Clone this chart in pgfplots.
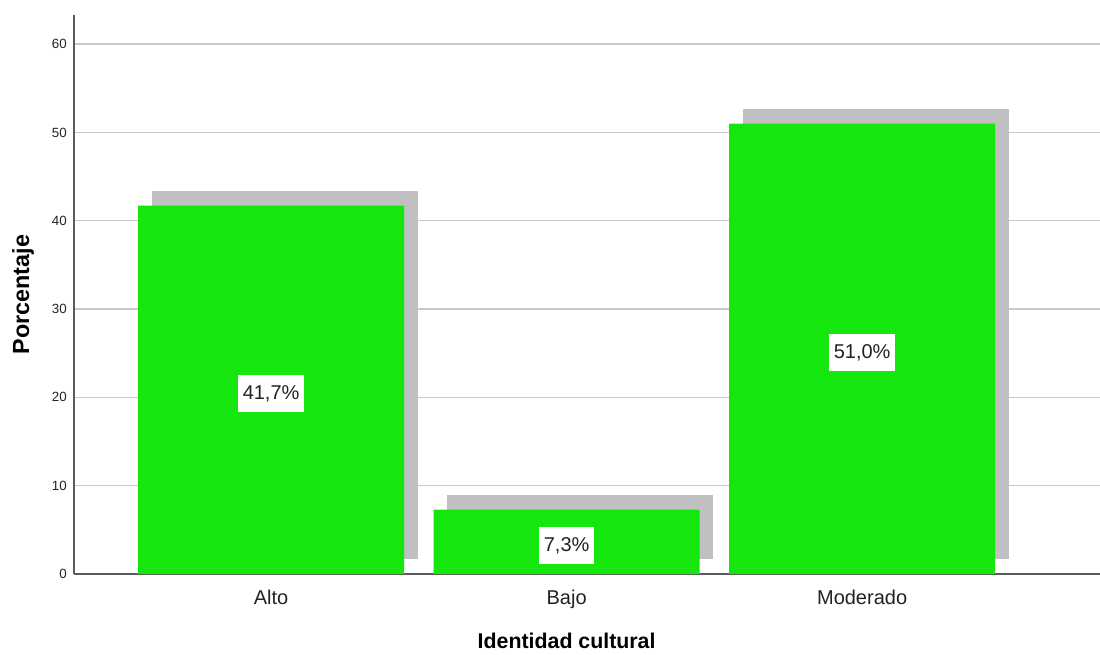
\documentclass[border=0pt]{standalone}
\usepackage{fontspec}
\setmainfont{Liberation Sans}
\usepackage{pgfplots}
\pgfplotsset{compat=1.18}
\definecolor{barg}{RGB}{20,230,14}
\definecolor{shad}{RGB}{192,191,194}
\definecolor{gridc}{RGB}{200,200,200}
\definecolor{axc}{RGB}{90,90,90}
\definecolor{txt}{RGB}{34,34,34}
\begin{document}
\begin{tikzpicture}
\useasboundingbox (-55.5pt,-60pt) rectangle (769.5pt,430.5pt);
\begin{axis}[
  scale only axis,
  width=769.5pt, height=419.25pt,
  xmin=-0.667, xmax=2.805,
  ymin=0, ymax=63.3,
  axis x line*=bottom, axis y line*=left,
  axis line style={draw=axc, line width=1pt, -},
  ytick={0,10,20,30,40,50,60},
  xtick={0,1,2},
  xticklabels={Alto,Bajo,Moderado},
  major tick length=0pt,
  ymajorgrids,
  grid style={draw=gridc, line width=1.1pt},
  /pgf/number format/assume math mode=true,
  yticklabel style={font=\fontsize{10}{12}\selectfont, text=txt, anchor=east, inner xsep=0pt, xshift=-5.25pt},
  xticklabel style={font=\fontsize{15}{18}\selectfont, text=txt, anchor=north, inner ysep=0pt, yshift=-12pt},
  xlabel={\textbf{Identidad cultural}},
  ylabel={\textbf{Porcentaje}},
  xlabel style={font=\fontsize{16}{19}\selectfont, at={(axis cs:1,0)}, anchor=base, inner sep=0pt, yshift=-56pt},
  ylabel style={font=\fontsize{17.5}{20}\selectfont, at={(axis description cs:0,0.5)}, anchor=center, yshift=38.25pt},
  clip=false,
]
% shadows
\addplot[fill=shad, draw=none] coordinates {(-0.404,1.7) (0.496,1.7) (0.496,43.4) (-0.404,43.4)} -- cycle;
\addplot[fill=shad, draw=none] coordinates {(0.596,1.7) (1.496,1.7) (1.496,9.0) (0.596,9.0)} -- cycle;
\addplot[fill=shad, draw=none] coordinates {(1.596,1.7) (2.496,1.7) (2.496,52.7) (1.596,52.7)} -- cycle;
% bars
\addplot[ybar, bar width=0.9, fill=barg, draw=none] coordinates {(0,41.7) (1,7.3) (2,51.0)};
% labels
\addplot[only marks, mark=none, nodes near coords, point meta=explicit symbolic,
  every node near coord/.style={anchor=center, fill=white, text=txt, inner xsep=3.4pt, minimum height=27.75pt, font=\fontsize{15}{18}\selectfont, yshift=-3pt}]
  coordinates {(0,20.85)[41,7\%] (1,3.65)[7,3\%] (2,25.5)[51,0\%]};
\end{axis}
\end{tikzpicture}
\end{document}
